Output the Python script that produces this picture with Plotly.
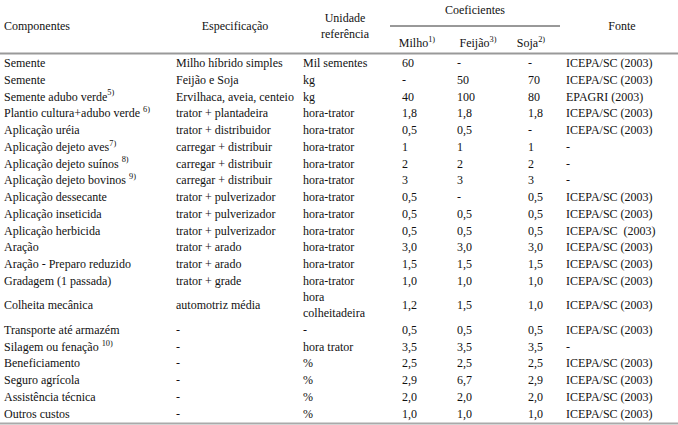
import plotly.graph_objects as go

# ── Table contents ───────────────────────────────────────────────────────────
componentes = [
    "Semente", "Semente", "Semente adubo verde<sup>5)</sup>",
    "Plantio cultura+adubo verde <sup>6)</sup>", "Aplicação uréia",
    "Aplicação dejeto aves<sup>7)</sup>", "Aplicação dejeto suínos <sup>8)</sup>",
    "Aplicação dejeto bovinos <sup>9)</sup>", "Aplicação dessecante",
    "Aplicação inseticida", "Aplicação herbicida", "Aração",
    "Aração - Preparo reduzido", "Gradagem (1 passada)", "Colheita mecânica",
    "Transporte até armazém", "Silagem ou fenação <sup>10)</sup>",
    "Beneficiamento", "Seguro agrícola", "Assistência técnica", "Outros custos",
]
especificacao = [
    "Milho híbrido simples", "Feijão e Soja", "Ervilhaca, aveia, centeio",
    "trator + plantadeira", "trator + distribuidor", "carregar + distribuir",
    "carregar + distribuir", "carregar + distribuir", "trator + pulverizador",
    "trator + pulverizador", "trator + pulverizador", "trator + arado",
    "trator + arado", "trator + grade", "automotriz média",
    "-", "-", "-", "-", "-", "-",
]
unidade = [
    "Mil sementes", "kg", "kg"] + ["hora-trator"] * 11 + [
    "hora<br>colheitadeira", "-", "hora trator", "%", "%", "%", "%",
]
milho = ["60", "-", "40", "1,8", "0,5", "1", "2", "3", "0,5", "0,5", "0,5",
         "3,0", "1,5", "1,0", "1,2", "0,5", "3,5", "2,5", "2,9", "2,0", "1,0"]
feijao = ["-", "50", "100", "1,8", "0,5", "1", "2", "3", "-", "0,5", "0,5",
          "3,0", "1,5", "1,0", "1,5", "0,5", "3,5", "2,5", "6,7", "2,0", "1,0"]
soja = ["-", "70", "80", "1,8", "-", "1", "2", "3", "0,5", "0,5", "0,5",
        "3,0", "1,5", "1,0", "1,0", "0,5", "3,5", "2,5", "2,9", "2,0", "1,0"]
fonte = ["ICEPA/SC (2003)", "ICEPA/SC (2003)", "EPAGRI (2003)",
         "ICEPA/SC (2003)", "ICEPA/SC (2003)", "-", "-", "-",
         "ICEPA/SC (2003)", "ICEPA/SC (2003)", "ICEPA/SC  (2003)",
         "ICEPA/SC (2003)", "ICEPA/SC (2003)", "ICEPA/SC (2003)",
         "ICEPA/SC (2003)", "ICEPA/SC (2003)", "-", "ICEPA/SC (2003)",
         "ICEPA/SC (2003)", "ICEPA/SC (2003)", "ICEPA/SC (2003)"]

headers = ["Componentes", "Especificação", "Unidade<br>referência",
           "Coeficientes", "Milho<sup>1)</sup>", "Feijão<sup>3)</sup>",
           "Soja<sup>2)</sup>", "Fonte"]

# ── Layout geometry (pixel-like axis units) ─────────────────────────────────
W, H = 678, 425
FONT = "Liberation Serif"
ROW_STEP = 16.75
TALL_PAD = 7.8

row_y = []
y = 64
for u in unidade:
    tall = "<br>" in u
    if tall:
        y += TALL_PAD
    row_y.append(y)
    y += ROW_STEP + (TALL_PAD if tall else 0)

col_x = {"comp": 4, "esp": 176, "uni": 303, "milho": 402,
         "feijao": 457, "soja": 528, "fonte": 566}

fig = go.Figure()

for key, col in [("comp", componentes), ("esp", especificacao),
                 ("uni", unidade), ("milho", milho), ("feijao", feijao),
                 ("soja", soja), ("fonte", fonte)]:
    fig.add_trace(go.Scatter(
        x=[col_x[key]] * len(col), y=row_y, text=col,
        mode="text", textposition="middle right", cliponaxis=False,
        textfont=dict(family=FONT, size=12, color="#111"),
        hoverinfo="skip", showlegend=False,
    ))

# header cells
head_x = [4, 235, 345, 475, 417, 478, 531, 622]
head_y = [27, 27, 27, 11, 44, 44, 44, 27]
head_pos = ["middle right"] + ["middle center"] * 7
fig.add_trace(go.Scatter(
    x=head_x, y=head_y, text=headers, mode="text",
    textposition=head_pos, cliponaxis=False,
    textfont=dict(family=FONT, size=12, color="#111"),
    hoverinfo="skip", showlegend=False,
))

# rules
fig.add_shape(type="line", x0=390, x1=560, y0=26, y1=26,
              line=dict(color="#333", width=1))
fig.add_shape(type="line", x0=0, x1=W, y0=53.5, y1=53.5,
              line=dict(color="#999", width=2))
fig.add_shape(type="line", x0=0, x1=W, y0=423.5, y1=423.5,
              line=dict(color="#aaa", width=2))

fig.update_xaxes(range=[0, W], visible=False, fixedrange=True)
fig.update_yaxes(range=[H, 0], visible=False, fixedrange=True)
fig.update_layout(
    width=W, height=H,
    margin=dict(l=0, r=0, t=0, b=0),
    plot_bgcolor="white", paper_bgcolor="white",
    font=dict(family=FONT, size=12, color="#111"),
)

# drop the browser's default body margin so the figure sits at the corner
fig.write_html("out.html", config={"displayModeBar": False},
               post_script="document.body.style.margin='0';")
